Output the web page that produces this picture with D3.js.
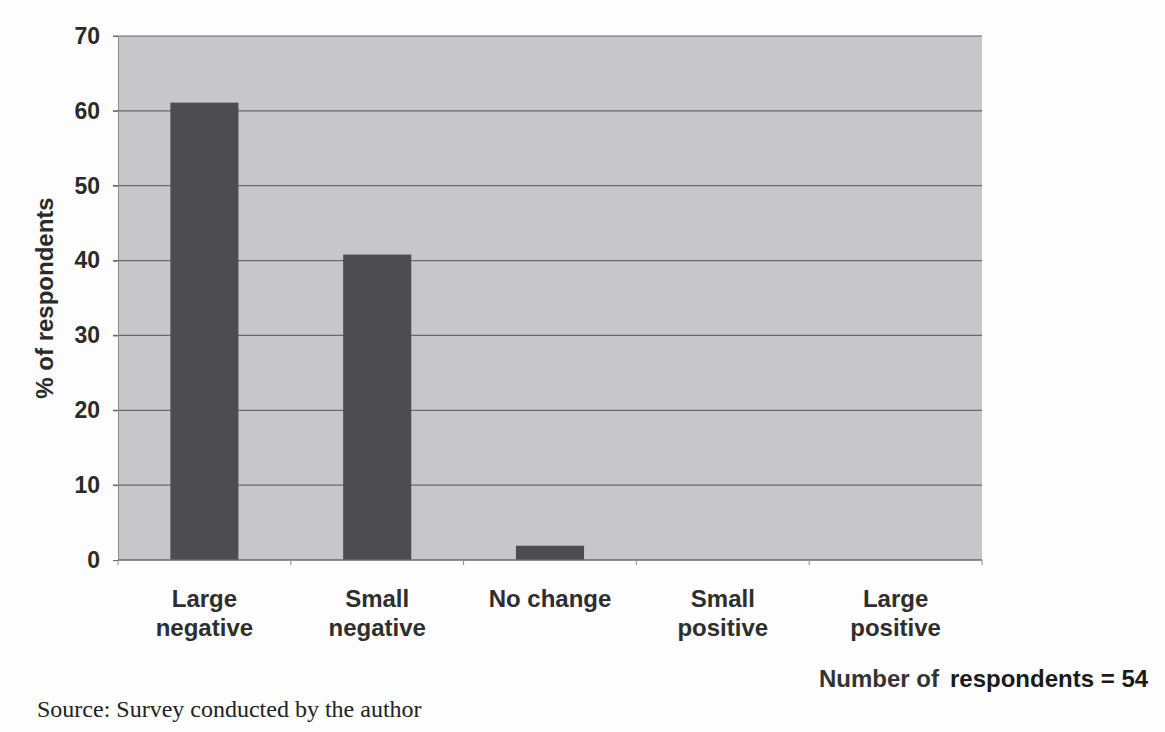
<!DOCTYPE html>
<html>
<head>
<meta charset="utf-8">
<script src="https://cdn.jsdelivr.net/npm/d3@7"></script>
<style>
  html, body { margin: 0; padding: 0; background: #fdfdfd; }
  svg { display: block; }
</style>
</head>
<body>
<script>
// ---- data ----
const categories = ["Large negative", "Small negative", "No change", "Small positive", "Large positive"];
const categoryLines = [["Large", "negative"], ["Small", "negative"], ["No change"], ["Small", "positive"], ["Large", "positive"]];
const percentValues = [61.1, 40.8, 1.9, 0, 0];
const yTicks = [0, 10, 20, 30, 40, 50, 60, 70];
const yTitle = "% of respondents";
const noteLeft = "Number of";
const noteRight = "respondents = 54";
const sourceText = "Source: Survey conducted by the author";

// ---- layout ----
const W = 1165, H = 732;
const plot = { left: 118, right: 982, top: 36, bottom: 560 };
const sans = "Liberation Sans, Arial, Helvetica, sans-serif";

const svg = d3.select("body").append("svg").attr("width", W).attr("height", H);

const x = d3.scaleBand().domain(categories).range([plot.left, plot.right]).paddingInner(0.606).paddingOuter(0.303);
const y = d3.scaleLinear().domain([0, 70]).range([plot.bottom, plot.top]);

// plot background
svg.append("rect")
  .attr("x", plot.left).attr("y", plot.top)
  .attr("width", plot.right - plot.left).attr("height", plot.bottom - plot.top)
  .attr("fill", "#c7c7c9");

// gridlines
svg.append("g").selectAll("line").data(yTicks.filter(d => d > 0)).join("line")
  .attr("x1", plot.left - 5).attr("x2", plot.right)
  .attr("y1", d => y(d)).attr("y2", d => y(d))
  .attr("stroke", "#69696b").attr("stroke-width", 1.2);

// bars
svg.append("g").selectAll("rect").data(categories.map((c, i) => ({ c, v: percentValues[i] })).filter(d => d.v > 0)).join("rect")
  .attr("x", d => x(d.c)).attr("width", x.bandwidth())
  .attr("y", d => y(d.v)).attr("height", d => y(0) - y(d.v))
  .attr("fill", "#4d4d4f");

// y axis
const yAxis = svg.append("g").attr("transform", `translate(${plot.left},0)`)
  .call(d3.axisLeft(y).tickValues(yTicks).tickSize(5).tickPadding(13));
yAxis.select(".domain").attr("stroke", "#8a8a8c").attr("stroke-width", 1);
yAxis.selectAll(".tick line").attr("stroke", "#69696b");
yAxis.selectAll(".tick text")
  .attr("font-family", sans)
  .attr("font-weight", "bold").attr("font-size", 23).attr("fill", "#2a2a2a");

// x axis
const xBoundaries = d3.range(categories.length + 1).map(i => plot.left + i * x.step());
const xAxis = svg.append("g");
xAxis.append("line").attr("x1", plot.left).attr("x2", plot.right)
  .attr("y1", plot.bottom).attr("y2", plot.bottom)
  .attr("stroke", "#6a6a6c").attr("stroke-width", 1.5);
xAxis.selectAll("line.tk").data(xBoundaries).join("line").attr("class", "tk")
  .attr("x1", d => d).attr("x2", d => d)
  .attr("y1", plot.bottom).attr("y2", plot.bottom + 5)
  .attr("stroke", "#8a8a8c");

const xl = svg.append("g").selectAll("text").data(categories).join("text")
  .attr("x", d => x(d) + x.bandwidth() / 2)
  .attr("y", 607)
  .attr("text-anchor", "middle")
  .attr("font-family", sans)
  .attr("font-weight", "bold").attr("font-size", 24).attr("fill", "#2e2e2e");
xl.each(function (d, i) {
  d3.select(this).selectAll("tspan").data(categoryLines[i]).join("tspan")
    .attr("x", x(d) + x.bandwidth() / 2)
    .attr("dy", (t, j) => j === 0 ? 0 : 29)
    .text(t => t);
});

// y title
svg.append("text")
  .attr("transform", "translate(53,298) rotate(-90)")
  .attr("text-anchor", "middle")
  .attr("font-family", sans)
  .attr("font-weight", "bold").attr("font-size", 24).attr("fill", "#2a2a2a")
  .text(yTitle);

// note
svg.append("text").attr("x", 939).attr("y", 687).attr("text-anchor", "end")
  .attr("font-family", sans)
  .attr("font-weight", "bold").attr("font-size", 24).attr("fill", "#333")
  .text(noteLeft);
svg.append("text").attr("x", 950).attr("y", 687)
  .attr("font-family", sans)
  .attr("font-weight", "bold").attr("font-size", 24).attr("fill", "#1a1a1a")
  .text(noteRight);

// source
svg.append("text").attr("x", 37).attr("y", 717)
  .attr("font-family", "Liberation Serif, Times New Roman, serif")
  .attr("font-size", 24).attr("fill", "#222")
  .text(sourceText);
</script>
</body>
</html>
